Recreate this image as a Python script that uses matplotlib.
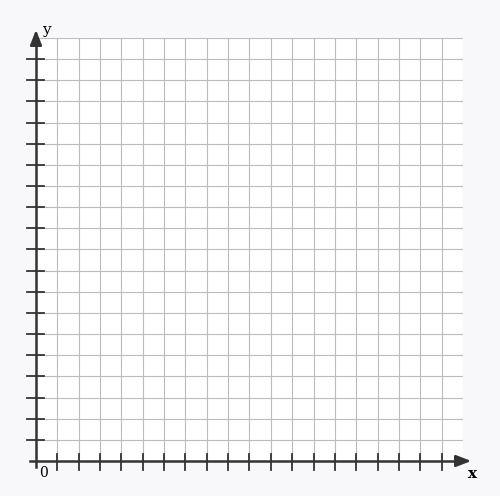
import matplotlib
matplotlib.use("Agg")
import matplotlib.pyplot as plt
import numpy as np

n_cells = 20
x_ticks = list(range(1, 20))
y_ticks = list(range(1, 20))
origin_label = "0"
x_label = "x"
y_label = "y"

W, H = 500, 496
fig = plt.figure(figsize=(W/100, H/100), dpi=100, facecolor="#f8f8fa")
x0, x1 = 36, 463
y0, y1 = 461, 38
ax = fig.add_axes([x0/W, 1-y0/H, (x1-x0)/W, (y0-y1)/H])
ax.set_xlim(0, n_cells); ax.set_ylim(0, n_cells)
ax.set_facecolor("white")
for s in ax.spines.values():
    s.set_visible(False)
ax.set_xticks([]); ax.set_yticks([])
for i in range(1, n_cells+1):
    ax.axvline(i, color="#bcbcbc", lw=0.8, zorder=1)
    ax.axhline(i, color="#bcbcbc", lw=0.8, zorder=1)

cx = n_cells/(x1-x0)
cy = n_cells/(y0-y1)
ax.plot([-0.3, n_cells], [0, 0], color="#333333", lw=1.8, clip_on=False, zorder=3)
ax.plot([0, 0], [-0.3, n_cells], color="#333333", lw=1.8, clip_on=False, zorder=3)
ax.annotate("", xy=(n_cells + 11*cx, 0), xytext=(n_cells - 2*cx, 0),
            arrowprops=dict(arrowstyle="-|>,head_length=0.9,head_width=0.35", color="#333333", lw=1.8),
            annotation_clip=False)
ax.annotate("", xy=(0, n_cells + 11*cy), xytext=(0, n_cells - 2*cy),
            arrowprops=dict(arrowstyle="-|>,head_length=0.9,head_width=0.35", color="#333333", lw=1.8),
            annotation_clip=False)
for t in x_ticks:
    ax.plot([t, t], [-9*cy, 7*cy], color="#333333", lw=1.3, clip_on=False, zorder=3)
for t in y_ticks:
    ax.plot([-9*cx, 8*cx], [t, t], color="#333333", lw=1.3, clip_on=False, zorder=3)

ax.text(3*cx, -5*cy, origin_label, family="DejaVu Serif", fontsize=10, va="top", ha="left")
ax.text(n_cells + 10*cx, -6*cy, x_label, family="DejaVu Serif", fontsize=11, weight="bold", va="top", ha="center")
ax.text(6*cx, n_cells + 8*cy, y_label, family="DejaVu Serif", fontsize=11, va="center", ha="left")

fig.savefig("out.png", dpi=100, facecolor=fig.get_facecolor())
